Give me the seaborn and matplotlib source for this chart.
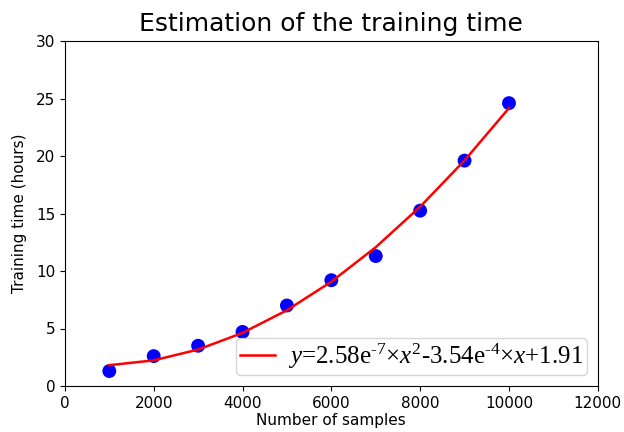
import matplotlib
matplotlib.use("Agg")
import matplotlib.pyplot as plt
import seaborn as sns
import pandas as pd

samples = [1000, 2000, 3000, 4000, 5000, 6000, 7000, 8000, 9000, 10000]
measured_hours = [1.3, 2.6, 3.5, 4.7, 7.0, 9.2, 11.3, 15.25, 19.6, 24.6]
fitted_hours = [1.81, 2.23, 3.17, 4.62, 6.59, 9.07, 12.07, 15.59, 19.62, 24.17]
legend_label = r"$y$=2.58e$^{\text{-7}}$×$x^2$-3.54e$^{\text{-4}}$×$x$+1.91"

plt.rcParams["mathtext.fontset"] = "custom"
plt.rcParams["mathtext.rm"] = "Liberation Serif"
plt.rcParams["mathtext.it"] = "Liberation Serif:italic"

df = pd.DataFrame({"n": samples, "t": measured_hours, "fit": fitted_hours})

fig = plt.figure(figsize=(6.24, 4.32), dpi=100)
ax = fig.add_axes([0.104, 0.1065, 0.854, 0.7985])

sns.scatterplot(data=df, x="n", y="t", color="blue", s=100, edgecolor="none", ax=ax, zorder=2)
sns.lineplot(data=df, x="n", y="fit", color="red", linewidth=1.8, ax=ax, label=legend_label, zorder=3)

ax.set_xlim(0, 12000)
ax.set_ylim(0, 30)
ax.set_xticks(range(0, 12001, 2000))
ax.set_yticks(range(0, 31, 5))
ax.tick_params(labelsize=11)
ax.set_xlabel("Number of samples", fontsize=11, labelpad=2)
ax.set_ylabel("Training time (hours)", fontsize=11, labelpad=6)
ax.set_title("Estimation of the training time", fontsize=18, pad=7)
ax.legend(loc="lower right", prop={"family": "Liberation Serif", "size": 18},
          handlelength=1.4, borderpad=0.15, handletextpad=0.5, borderaxespad=0.45)

fig.savefig("out.png", dpi=100)
